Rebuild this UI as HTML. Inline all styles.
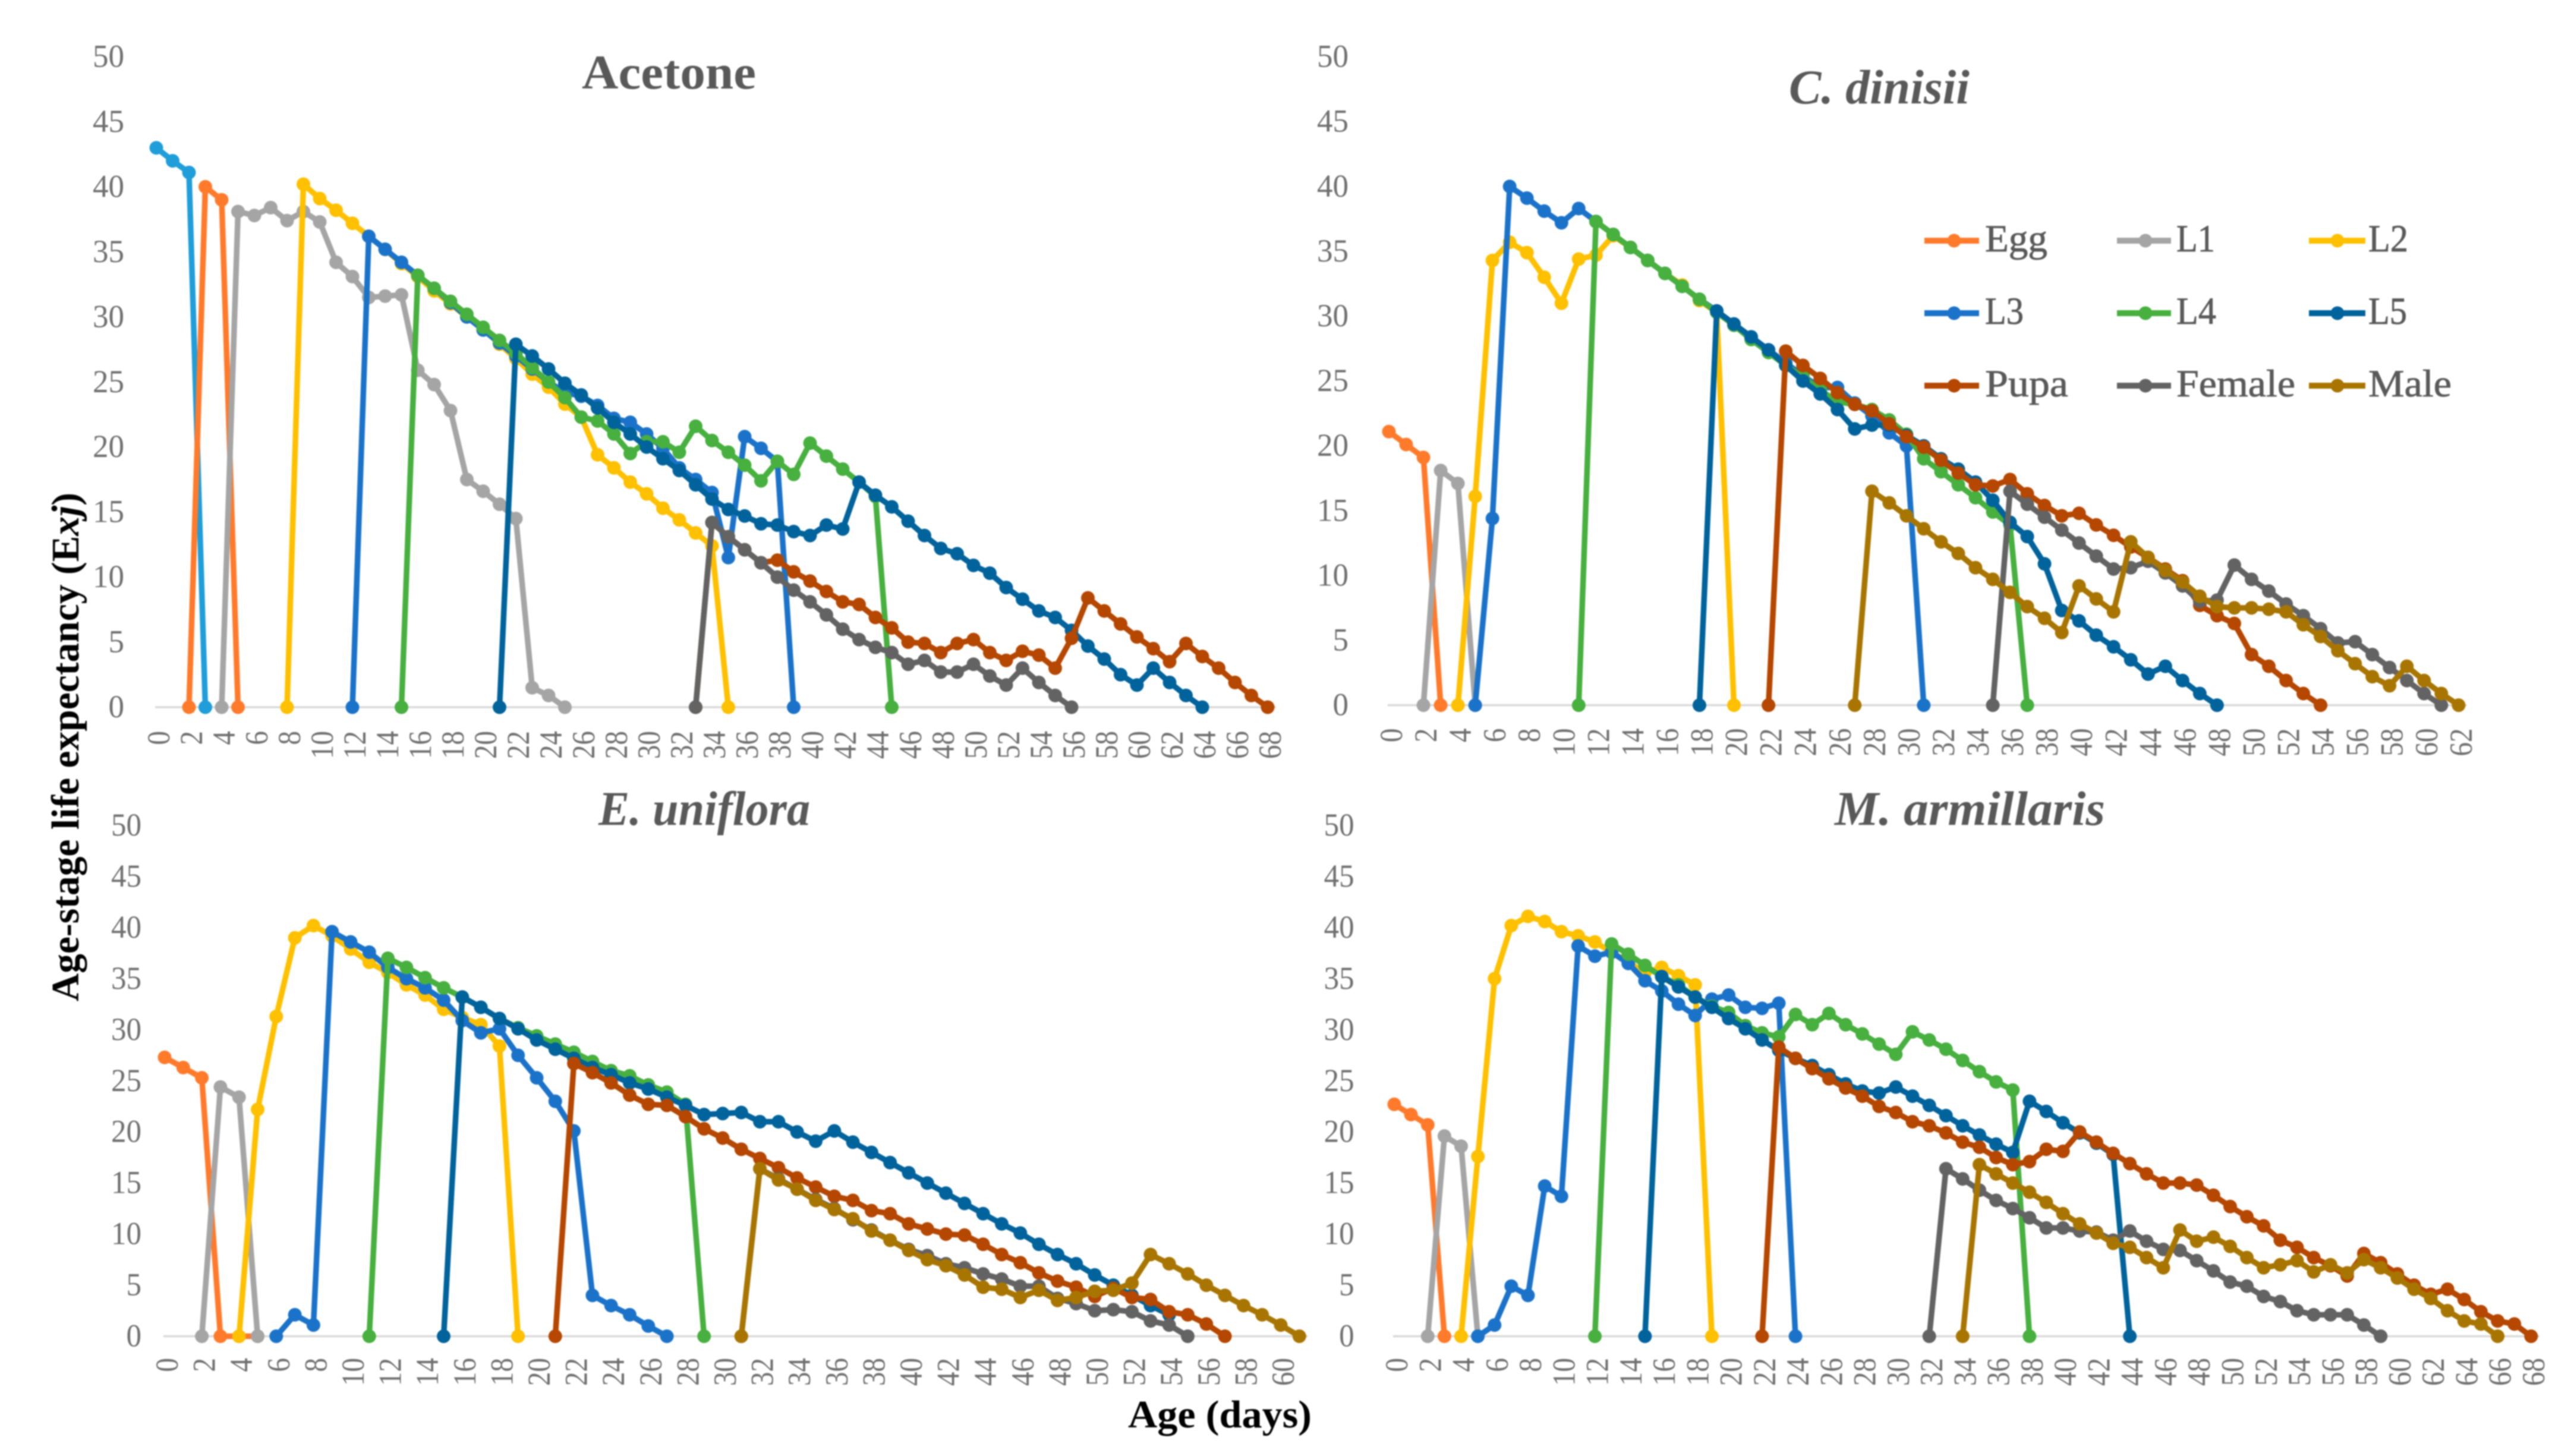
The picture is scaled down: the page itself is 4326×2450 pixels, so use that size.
<!DOCTYPE html>
<html lang="en">
<head>
<meta charset="utf-8">
<title>Age-stage life expectancy</title>
<style>
html,body{margin:0;padding:0;background:#fff;}
body{width:4326px;height:2450px;overflow:hidden;}
svg{display:block;filter:blur(1.1px);}
text{font-family:"Liberation Serif",serif;}
.title{font-size:82px;font-weight:bold;fill:#595959;}
.legend-text{font-size:65px;fill:#595959;stroke:#595959;stroke-width:0.8px;}
.axis-title{font-size:66px;font-weight:bold;fill:#000;}
.tick{font-size:54px;fill:#6f6f6f;}
</style>
</head>
<body>
<svg id="chart" xmlns="http://www.w3.org/2000/svg" width="4326" height="2450" viewBox="0 0 4326 2450">
  <rect x="0" y="0" width="4326" height="2450" fill="#ffffff"/>

  <text class="title" x="979" y="149" textLength="293" lengthAdjust="spacingAndGlyphs">Acetone</text>
  <text class="title" x="3010" y="174" textLength="304" lengthAdjust="spacingAndGlyphs" font-style="italic">C. dinisii</text>
  <text class="title" x="1007" y="1388" textLength="356" lengthAdjust="spacingAndGlyphs" font-style="italic">E. uniflora</text>
  <text class="title" x="3087" y="1388" textLength="455" lengthAdjust="spacingAndGlyphs" font-style="italic">M. armillaris</text>

  <text class="axis-title" transform="translate(132 1685) rotate(-90)" x="0" y="0" textLength="856" lengthAdjust="spacingAndGlyphs">Age-stage life expectancy (E<tspan font-style="italic">xj</tspan>)</text>
  <text class="axis-title" x="1898" y="2402" textLength="309" lengthAdjust="spacingAndGlyphs">Age (days)</text>

  <g id="panels"></g>

  <g>
    <g>
      <line x1="3238" x2="3330" y1="405" y2="405" stroke="#ff7a2b" stroke-width="10"/><circle cx="3288" cy="405" r="11.5" fill="#ff7a2b"/>
      <text class="legend-text" x="3340" y="423" textLength="105" lengthAdjust="spacingAndGlyphs">Egg</text>
    </g>
    <g>
      <line x1="3562" x2="3653" y1="405" y2="405" stroke="#a5a5a5" stroke-width="10"/><circle cx="3610" cy="405" r="11.5" fill="#a5a5a5"/>
      <text class="legend-text" x="3662" y="423" textLength="65" lengthAdjust="spacingAndGlyphs">L1</text>
    </g>
    <g>
      <line x1="3885" x2="3980" y1="405" y2="405" stroke="#ffc000" stroke-width="10"/><circle cx="3933" cy="405" r="11.5" fill="#ffc000"/>
      <text class="legend-text" x="3985" y="423" textLength="67" lengthAdjust="spacingAndGlyphs">L2</text>
    </g>
    <g>
      <line x1="3238" x2="3330" y1="527" y2="527" stroke="#1b73c9" stroke-width="10"/><circle cx="3288" cy="527" r="11.5" fill="#1b73c9"/>
      <text class="legend-text" x="3340" y="545" textLength="65" lengthAdjust="spacingAndGlyphs">L3</text>
    </g>
    <g>
      <line x1="3562" x2="3653" y1="527" y2="527" stroke="#47b03f" stroke-width="10"/><circle cx="3610" cy="527" r="11.5" fill="#47b03f"/>
      <text class="legend-text" x="3662" y="545" textLength="67" lengthAdjust="spacingAndGlyphs">L4</text>
    </g>
    <g>
      <line x1="3885" x2="3980" y1="527" y2="527" stroke="#00639b" stroke-width="10"/><circle cx="3933" cy="527" r="11.5" fill="#00639b"/>
      <text class="legend-text" x="3985" y="545" textLength="65" lengthAdjust="spacingAndGlyphs">L5</text>
    </g>
    <g>
      <line x1="3238" x2="3330" y1="649" y2="649" stroke="#b54700" stroke-width="10"/><circle cx="3288" cy="649" r="11.5" fill="#b54700"/>
      <text class="legend-text" x="3340" y="667" textLength="140" lengthAdjust="spacingAndGlyphs">Pupa</text>
    </g>
    <g>
      <line x1="3562" x2="3653" y1="649" y2="649" stroke="#636363" stroke-width="10"/><circle cx="3610" cy="649" r="11.5" fill="#636363"/>
      <text class="legend-text" x="3662" y="667" textLength="200" lengthAdjust="spacingAndGlyphs">Female</text>
    </g>
    <g>
      <line x1="3885" x2="3980" y1="649" y2="649" stroke="#a87600" stroke-width="10"/><circle cx="3933" cy="649" r="11.5" fill="#a87600"/>
      <text class="legend-text" x="3985" y="667" textLength="140" lengthAdjust="spacingAndGlyphs">Male</text>
    </g>
  </g>
</svg>

<script>
// ---- tick labels ----
const yTickLabels = [0,5,10,15,20,25,30,35,40,45,50];
const xTickLabels = [0,2,4,6,8,10,12,14,16,18,20,22,24,26,28,30,32,34,36,38,40,42,44,46,48,50,52,54,56,58,60,62,64,66,68];

// ---- Acetone (values are consecutive days from the start day) ----
const acetoneFirst = [43,42,41.1,0];
const acetoneEgg = [0,40,39,0];
const acetoneL1 = [0,38.1,37.8,38.4,37.4,38.1,37.3,34.2,33.1,31.5,31.6,31.7,25.9,24.8,22.8,17.5,16.6,15.6,14.5,1.5,0.9,0];
const acetoneL2 = [0,40.2,39.1,38.2,37.2,36.2,35.2,34.1,33.1,32,31,30,29.1,27.9,26.8,25.6,24.6,23.3,22.3,19.4,18.4,17.3,16.4,15.3,14.4,13.4,12.4,0];
const acetoneL3 = [0,36.2,35.2,34.2,33.2,32.2,31.1,30,29,28,27,26,25,24.2,23.9,23.2,22.2,21.9,21,19.9,18.4,17.5,16.5,11.5,20.8,19.9,18.9,0];
const acetoneL4 = [0,33.2,32.2,31.2,30.2,29.2,28.2,27.2,26.1,25,23.8,22.3,22,21,19.5,20.4,20.4,19.6,21.6,20.5,19.6,18.6,17.4,18.9,17.9,20.3,19.3,18.3,17.3,16.2,0];
const acetoneL5 = [0,27.9,27,26,24.9,24,23,21.9,21,20,19.1,18.2,17.1,16,15.2,14.7,14.1,14,13.5,13.2,14,13.7,17.3,16.3,15.4,14.3,13.2,12.2,11.8,10.9,10.3,9.2,8.3,7.4,6.9,5.9,4.7,3.7,2.5,1.7,3,1.9,0.9,0];
const acetonePupa = [0,14.2,13.1,12.1,11.1,11.3,10.4,9.7,8.9,8.1,7.9,6.9,6.1,5,4.9,4.2,4.9,5.2,4.2,3.6,4.3,4,3,5.3,8.4,7.4,6.4,5.4,4.5,3.5,4.9,3.9,3,1.9,0.9,0];
const acetoneFemale = [0,14.2,13.1,12.1,11.1,10,9,8.1,7.1,6,5.2,4.6,4.2,3.3,3.6,2.7,2.7,3.3,2.4,1.7,3,1.9,0.9,0];

// ---- C. dinisii ----
const dinisiiEgg = [21.1,20.1,19.1,0];
const dinisiiL1 = [0,18.1,17.1,0];
const dinisiiL2 = [0,16.1,34.3,35.7,34.9,33,31,34.4,34.7,36.2,35.3,34.3,33.3,32.4,31.2,30.3,0];
const dinisiiL3 = [0,14.4,40,39.1,38.1,37.2,38.3,37.3,36.3,35.3,34.3,33.3,32.3,31.3,30.4,29.3,28.3,27.4,26.4,25.4,24.5,24.5,23.3,22.3,21,20,0];
const dinisiiL4 = [0,37.3,36.3,35.3,34.3,33.3,32.3,31.3,30.3,29.3,28.2,27.2,26.2,25.3,24.3,23.4,23.2,22.8,22,20.9,19,18,17,16,14.9,13.9,0];
const dinisiiL5 = [0,30.4,29.4,28.4,27.4,26.2,25,24,22.8,21.3,21.6,21.6,20.8,20,19,18.2,17.2,15.8,14.1,13,10.9,7.3,6.5,5.4,4.5,3.5,2.4,3,1.9,0.9,0];
const dinisiiPupa = [0,27.3,26.2,25.2,24.1,23.2,22.7,21.7,20.7,19.9,18.9,17.9,17,16.9,17.4,16.3,15.4,14.6,14.8,13.9,13.1,12.2,11.4,10.5,9.6,7.7,6.9,6.3,3.9,3,1.9,0.9,0];
const dinisiiFemale = [0,16.5,15.5,14.5,13.5,12.5,11.5,10.5,10.6,11.1,10.2,9.2,8,8.1,10.8,9.7,8.8,7.8,6.9,5.9,4.8,4.9,3.9,2.9,1.9,0.9,0];
const dinisiiMale = [0,16.5,15.6,14.6,13.6,12.6,11.7,10.6,9.7,8.7,7.6,6.7,5.6,9.2,8.2,7.2,12.6,11.4,10.4,9.5,8.4,7.6,7.5,7.5,7.4,7.2,6.2,5.3,4.2,3.2,2.2,1.5,3,1.9,0.9,0];

// ---- E. uniflora ----
const unifloraEgg = [27.3,26.3,25.3,0,0,0];
const unifloraL1 = [0,24.4,23.4,0];
const unifloraL2 = [0,22.2,31.3,39,40.2,39.2,37.9,36.6,35.6,34.4,33.4,32,31.2,30.5,28.4,0];
const unifloraL3 = [0,2.1,1.1,39.6,38.6,37.6,36.1,35,34.1,32.9,30.9,29.7,30.1,27.5,25.3,23,20.1,4,3,2.1,1,0];
const unifloraL4 = [0,37,36.1,35.1,34.1,33.2,32.2,31.1,30.2,29.4,28.6,27.8,26.9,26,25.5,24.6,23.9,22.7,0];
const unifloraL5 = [0,33.2,32.2,31.1,30.1,29,28.1,27.2,26.3,25.6,24.8,24.2,23.4,22.6,21.7,21.8,21.9,21,21,20,19.1,20.1,19,18,17,16,15,14,13,12,11,10.1,9,8,7.1,6,5,4,3,2.1];
const unifloraPupa = [0,26.7,25.8,24.8,23.6,22.7,22.6,21.5,20.3,19.4,18.3,17.4,16.5,15.5,14.6,13.7,13.3,12.3,12,11,10.5,10,9.9,9,8,7.2,6.2,5.4,4.8,3.9,4.7,3.8,3.6,2.4,2.1,1.2,0];
const unifloraFemale = [0,16.4,15.4,14.4,13.4,12.5,11.4,10.4,9.4,8.5,7.9,7.1,6.7,6.1,5.6,4.9,4.9,3.7,3.2,2.5,2.6,2.4,1.5,1.1,0];
const unifloraMale = [0,16.4,15.3,14.4,13.3,12.4,11.5,10.3,9.4,8.4,7.5,6.9,6,4.8,4.6,3.8,4.5,3.5,3.8,4.4,4.5,5.2,8,7.1,6.1,5,4,3,2.1,1.1,0];

// ---- M. armillaris ----
const armillarisEgg = [22.7,21.7,20.7,0];
const armillarisL1 = [0,19.6,18.6,0];
const armillarisL2 = [0,17.6,35,40.2,41.1,40.6,39.6,39.2,38.6,37.6,36.6,35.6,36.1,35.3,34.4,0];
const armillarisL3 = [0,1.1,4.9,4,14.7,13.7,38.2,37.2,37.6,36.5,34.8,33.8,32.5,31.4,33,33.4,32.2,32.1,32.6,0];
const armillarisL4 = [0,38.4,37.4,36.3,35.2,34.4,33.2,32.3,31.7,30.4,29.7,29.3,31.5,30.5,31.6,30.5,29.6,28.6,27.6,29.8,29,28.1,27,25.9,24.9,24.1,0];
const armillarisL5 = [0,35.2,34.2,33.2,32.2,31.1,30.1,29,28,27.2,26.5,25.6,24.7,24,23.8,24.4,23.5,22.6,21.6,20.6,19.7,18.8,18,23,22,20.9,19.9,18.9,17.8,0];
const armillarisPupa = [0,28.3,27.2,26.2,25.2,24.3,23.5,22.5,21.9,21,20.6,19.9,19,18.5,17.5,16.8,17.1,18.3,18.1,20,19,17.9,16.9,15.9,15,15,14.8,13.8,12.7,11.7,10.8,9.4,8.7,7.7,6.9,5.9,8.1,7.2,6.1,5,4.1,4.6,3.6,2.4,1.5,1.2,0];
const armillarisFemale = [0,16.4,15.4,14.3,13.3,12.5,11.6,10.6,10.6,10.3,10.2,9.4,10.3,9.3,8.5,8.4,7.4,6.4,5.3,4.9,3.9,3.4,2.5,2.1,2.1,2.1,1.1,0];
const armillarisMale = [0,16.8,15.9,15,14.1,13.1,12,11,10.1,9.1,8.7,7.7,6.7,10.4,9.3,9.7,8.8,7.7,6.7,7,7.4,6.3,7,6.2,7.5,6.7,5.7,4.6,3.7,2.5,1.5,1.2,0];

// ---- start day of each stage, per plant ----
const acetoneStarts = [0,2,4,8,12,15,21,33,33];
const dinisiiStarts = [0,2,4,5,11,18,22,35,27];
const unifloraStarts = [0,2,4,6,11,15,21,31,31];
const armillarisStarts = [0,2,4,5,12,15,22,32,34];
const stageNames = ['egg','l1','l2','l3','l4','l5','pupa','female','male'];

const stageColors = {first:'#1f9ed9',egg:'#ff7a2b',l1:'#a5a5a5',l2:'#ffc000',l3:'#1b73c9',l4:'#47b03f',l5:'#00639b',pupa:'#b54700',female:'#636363',male:'#a87600'};

const SVGNS = 'http://www.w3.org/2000/svg';
const root = document.getElementById('panels');

function makeScaleX(x0, dayPx){ return function(day){ return x0 + day * dayPx; }; }
function makeScaleY(y0, unitPx){ return function(v){ return y0 - v * unitPx; }; }

function drawSeries(g, name, color, start, values, sx, sy){
  const sg = document.createElementNS(SVGNS,'g');
  
  
  const pl = document.createElementNS(SVGNS,'polyline');
  
  
  pl.setAttribute('points', values.map(function(v,i){ return sx(start+i).toFixed(1)+','+sy(v).toFixed(1); }).join(' '));
  pl.setAttribute('fill','none');
  pl.setAttribute('stroke',color);
  pl.setAttribute('stroke-width','9.5');
  pl.setAttribute('stroke-linejoin','round');
  sg.appendChild(pl);
  values.forEach(function(v,i){
    const c = document.createElementNS(SVGNS,'circle');
    
    
    c.setAttribute('cx', sx(start+i).toFixed(1));
    c.setAttribute('cy', sy(v).toFixed(1));
    c.setAttribute('r','11.5');
    c.setAttribute('fill',color);
    sg.appendChild(c);
  });
  g.appendChild(sg);
}

function drawPanel(cfg){
  const sx = makeScaleX(cfg.x0, cfg.dayPx);
  const sy = makeScaleY(cfg.y0, cfg.unitPx);
  const g = document.createElementNS(SVGNS,'g');
  
  
  root.appendChild(g);

  const axis = document.createElementNS(SVGNS,'line');
  
  
  axis.setAttribute('x1', sx(0)-2);
  axis.setAttribute('x2', sx(cfg.maxDay)+14);
  axis.setAttribute('y1', sy(0));
  axis.setAttribute('y2', sy(0));
  axis.setAttribute('stroke','#d9d9d9');
  axis.setAttribute('stroke-width','3.5');
  g.appendChild(axis);

  yTickLabels.forEach(function(v){
    const t = document.createElementNS(SVGNS,'text');
    
    
    const s = String(v);
    const len = cfg.yDigitLen * s.length;
    t.setAttribute('class','tick');
    t.setAttribute('x', cfg.yRight - len);
    t.setAttribute('y', sy(v) + 17);
    t.setAttribute('textLength', len);
    t.setAttribute('lengthAdjust','spacingAndGlyphs');
    t.textContent = s;
    g.appendChild(t);
  });

  xTickLabels.filter(function(d){ return d <= cfg.maxDay; }).forEach(function(d){
    const t = document.createElementNS(SVGNS,'text');
    
    
    const s = String(d);
    const len = 23.5 * s.length;
    const bx = sx(d) + 22;
    const by = cfg.xTop + len;
    t.setAttribute('class','tick');
    t.setAttribute('x', bx);
    t.setAttribute('y', by);
    t.setAttribute('transform','rotate(-90 '+bx+' '+by+')');
    t.setAttribute('textLength', len);
    t.setAttribute('lengthAdjust','spacingAndGlyphs');
    t.textContent = s;
    g.appendChild(t);
  });

  cfg.series.forEach(function(s){
    drawSeries(g, cfg.id + '-' + s.name, stageColors[s.name], s.start, s.values, sx, sy);
  });
}

drawPanel({id:'acetone', x0:263, dayPx:27.5, y0:1190, unitPx:21.89, maxDay:68, yRight:209, yDigitLen:26.5, xTop:1230,
  series:[
    {name:'first', start:0, values:acetoneFirst},
    {name:'egg', start:acetoneStarts[1], values:acetoneEgg},
    {name:'l1', start:acetoneStarts[2], values:acetoneL1},
    {name:'l2', start:acetoneStarts[3], values:acetoneL2},
    {name:'l3', start:acetoneStarts[4], values:acetoneL3},
    {name:'l4', start:acetoneStarts[5], values:acetoneL4},
    {name:'l5', start:acetoneStarts[6], values:acetoneL5},
    {name:'pupa', start:acetoneStarts[7], values:acetonePupa},
    {name:'female', start:acetoneStarts[8], values:acetoneFemale}
  ]});

drawPanel({id:'c-dinisii', x0:2337, dayPx:29.03, y0:1186.6, unitPx:21.82, maxDay:62, yRight:2269, yDigitLen:26.5, xTop:1225.5,
  series:[dinisiiEgg,dinisiiL1,dinisiiL2,dinisiiL3,dinisiiL4,dinisiiL5,dinisiiPupa,dinisiiFemale,dinisiiMale].map(function(v,i){
    return {name:stageNames[i], start:dinisiiStarts[i], values:v};
  })});

drawPanel({id:'e-uniflora', x0:277, dayPx:31.3, y0:2248.5, unitPx:17.19, maxDay:61, yRight:238, yDigitLen:25.5, xTop:2285,
  series:[unifloraEgg,unifloraL1,unifloraL2,unifloraL3,unifloraL4,unifloraL5,unifloraPupa,unifloraFemale,unifloraMale].map(function(v,i){
    return {name:stageNames[i], start:unifloraStarts[i], values:v};
  })});

drawPanel({id:'m-armillaris', x0:2346, dayPx:28.13, y0:2248.5, unitPx:17.19, maxDay:68, yRight:2278.6, yDigitLen:25.5, xTop:2285,
  series:[armillarisEgg,armillarisL1,armillarisL2,armillarisL3,armillarisL4,armillarisL5,armillarisPupa,armillarisFemale,armillarisMale].map(function(v,i){
    return {name:stageNames[i], start:armillarisStarts[i], values:v};
  })});
</script>
</body>
</html>
